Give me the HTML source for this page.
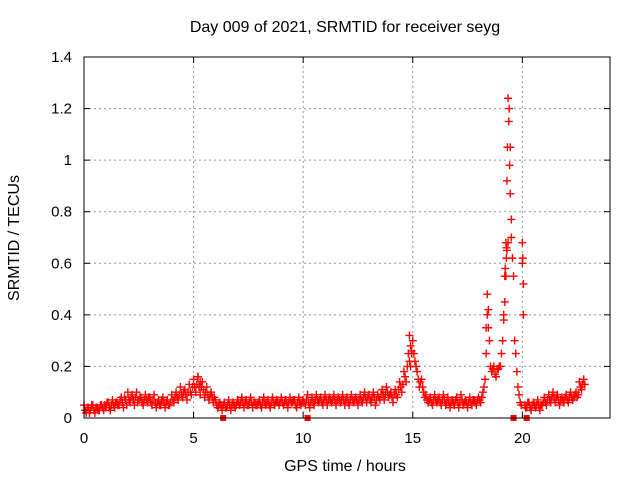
<!DOCTYPE html>
<html><head><meta charset="utf-8"><style>
html,body{margin:0;padding:0;background:#fff;}
svg{display:block;font-family:"Liberation Sans",sans-serif;}
</style></head><body>
<svg id="chart" width="640" height="480">
<text x="345" y="32" text-anchor="middle" font-size="16">Day 009 of 2021, SRMTID for receiver seyg</text>
<text x="345" y="471" text-anchor="middle" font-size="16">GPS time / hours</text>
<text transform="translate(19,238) rotate(-90)" text-anchor="middle" font-size="16">SRMTID / TECUs</text>
<g id="grid"></g><g id="marks"></g>
<rect x="84" y="57" width="526" height="361" fill="none" stroke="#000" stroke-width="1"/>
</svg>
<script>
const xTicks=[0,5,10,15,20];
const yTicks=[0,0.2,0.4,0.6,0.8,1,1.2,1.4];
const yTickLabels=["0","0.2","0.4","0.6","0.8","1","1.2","1.4"];
const step=0.1;
const values=[
.05,.02,.04,.03,.05,.02,.04,.03,.05,.03,
.04,.06,.03,.07,.04,.06,.05,.08,.04,.07,
.10,.06,.09,.05,.10,.07,.08,.05,.09,.06,
.08,.05,.09,.04,.07,.05,.08,.04,.07,.05,
.09,.06,.10,.07,.12,.08,.11,.07,.13,.09,
.15,.10,.16,.09,.14,.08,.12,.07,.10,.06,
.07,.04,.06,.03,.06,.04,.07,.03,.06,.04,
.07,.05,.08,.04,.07,.05,.08,.04,.06,.05,
.07,.04,.08,.05,.07,.04,.08,.05,.07,.05,
.08,.05,.07,.04,.08,.06,.07,.04,.08,.05,
.07,.05,.09,.04,.08,.05,.09,.06,.08,.05,
.09,.05,.08,.06,.09,.05,.08,.06,.09,.05,
.08,.05,.09,.06,.08,.05,.09,.06,.10,.06,
.09,.06,.10,.05,.09,.07,.11,.07,.12,.08,
.10,.06,.11,.08,.14,.10,.18,.14,.25,.20,
.30,.22,.18,.12,.15,.10,.09,.06,.08,.05,
.09,.06,.08,.05,.09,.05,.08,.04,.07,.05,
.08,.04,.09,.05,.07,.04,.08,.05,.07,.05,
.08,.06,.10,.15,.40,.30,.18,.20,.16,.19,
.20,.30,.45,.65,1.20,.70,.55,.25,.12,.06,
.60,.05,.04,.06,.03,.06,.04,.07,.03,.05,
.08,.05,.09,.06,.10,.06,.09,.05,.08,.06,
.09,.06,.10,.07,.09,.08,.14,.11,.15];
const valuesB=[
.03,.04,.02,.05,.03,.04,.03,.05,.04,.05,
.06,.04,.05,.05,.06,.05,.07,.06,.08,.05,
.07,.08,.07,.08,.06,.08,.06,.07,.07,.08,
.06,.07,.06,.06,.05,.07,.06,.06,.05,.06,
.07,.08,.08,.09,.09,.10,.09,.10,.10,.12,
.12,.13,.12,.12,.11,.10,.09,.09,.08,.08,
.05,.05,.05,.05,.04,.05,.05,.05,.05,.05,
.06,.06,.06,.06,.05,.06,.06,.06,.05,.06,
.05,.06,.06,.06,.05,.06,.06,.06,.06,.06,
.06,.06,.06,.06,.06,.07,.05,.06,.06,.06,
.06,.07,.06,.06,.06,.07,.07,.07,.06,.07,
.07,.07,.07,.07,.07,.07,.07,.07,.07,.07,
.06,.07,.07,.07,.07,.07,.07,.08,.08,.08,
.07,.08,.08,.07,.08,.09,.09,.09,.10,.09,
.08,.09,.09,.11,.12,.13,.16,.20,.22,.26,
.25,.20,.15,.14,.12,.08,.07,.07,.06,.07,
.07,.07,.06,.07,.07,.06,.06,.06,.06,.07,
.06,.06,.07,.06,.06,.06,.06,.07,.06,.07,
.07,.08,.12,.25,.35,.20,.19,.17,.19,.20,
.25,.38,.55,.68,1.05,.62,.30,.18,.09,.05,
.40,.04,.06,.04,.05,.05,.05,.05,.05,.06,
.06,.07,.07,.08,.08,.08,.07,.07,.07,.08,
.07,.08,.08,.08,.10,.09,.12,.13,.13];
const extraTimes=[14.85,14.9,14.95,18.35,18.4,18.45,19.15,19.2,19.25,19.3,19.32,19.35,19.38,19.42,19.45,19.5,20.0,20.02,20.05,5.2,5.3,19.27,19.28,19.22];
const extraValues=[.32,.28,.25,.35,.48,.42,.40,.55,.68,.92,1.05,1.24,1.15,.98,.87,.77,.68,.62,.52,.16,.14,.62,.66,.58];
const zeroTimes=[6.35,10.2,19.6,20.2];
const X0=84,X1=610,Y0=418,Y1=57;
const xs=t=>X0+t/24*(X1-X0);
const ys=v=>Y0-v/1.4*(Y0-Y1);
const NS="http://www.w3.org/2000/svg";
const grid=document.getElementById('grid'),marks=document.getElementById('marks');
function mk(tag,a,p){const e=document.createElementNS(NS,tag);for(const k in a)e.setAttribute(k,a[k]);p.appendChild(e);return e;}
xTicks.forEach(t=>{const x=xs(t);
 if(t>0){const g=mk('line',{x1:x,x2:x,y1:Y0,y2:Y1,stroke:'#999','stroke-dasharray':'2,3'},grid);
 
 }
 mk('line',{x1:x,x2:x,y1:Y0,y2:Y0-6,stroke:'#000'},grid);
 mk('line',{x1:x,x2:x,y1:Y1,y2:Y1+6,stroke:'#000'},grid);
 const l=mk('text',{x:x,y:443,'text-anchor':'middle','font-size':'15'},grid);l.textContent=t;
 
 
});
yTicks.forEach((v,i)=>{const y=ys(v);
 if(v>0&&v<1.4){const g=mk('line',{x1:X0,x2:X1,y1:y,y2:y,stroke:'#999','stroke-dasharray':'2,3'},grid);
 
 }
 mk('line',{x1:X0,x2:X0+6,y1:y,y2:y,stroke:'#000'},grid);
 mk('line',{x1:X1,x2:X1-6,y1:y,y2:y,stroke:'#000'},grid);
 const l=mk('text',{x:72,y:y+5,'text-anchor':'end','font-size':'15'},grid);l.textContent=yTickLabels[i];
 
 
});
function plus(t,v){const x=xs(t),y=ys(v);
 const p=mk('path',{d:`M${x-4},${y}h8M${x},${y-4}v8`,stroke:'#f00','stroke-width':'1.4',fill:'none'},marks);
 
 }
values.forEach((v,i)=>plus(i*step,v));
valuesB.forEach((v,i)=>plus(i*step+0.05,v));
extraTimes.forEach((t,i)=>plus(t,extraValues[i]));
zeroTimes.forEach(t=>{const r=mk('rect',{x:xs(t)-3,y:Y0-3,width:6,height:6,fill:'#f00'},marks);
 
 });
</script>
</body></html>
